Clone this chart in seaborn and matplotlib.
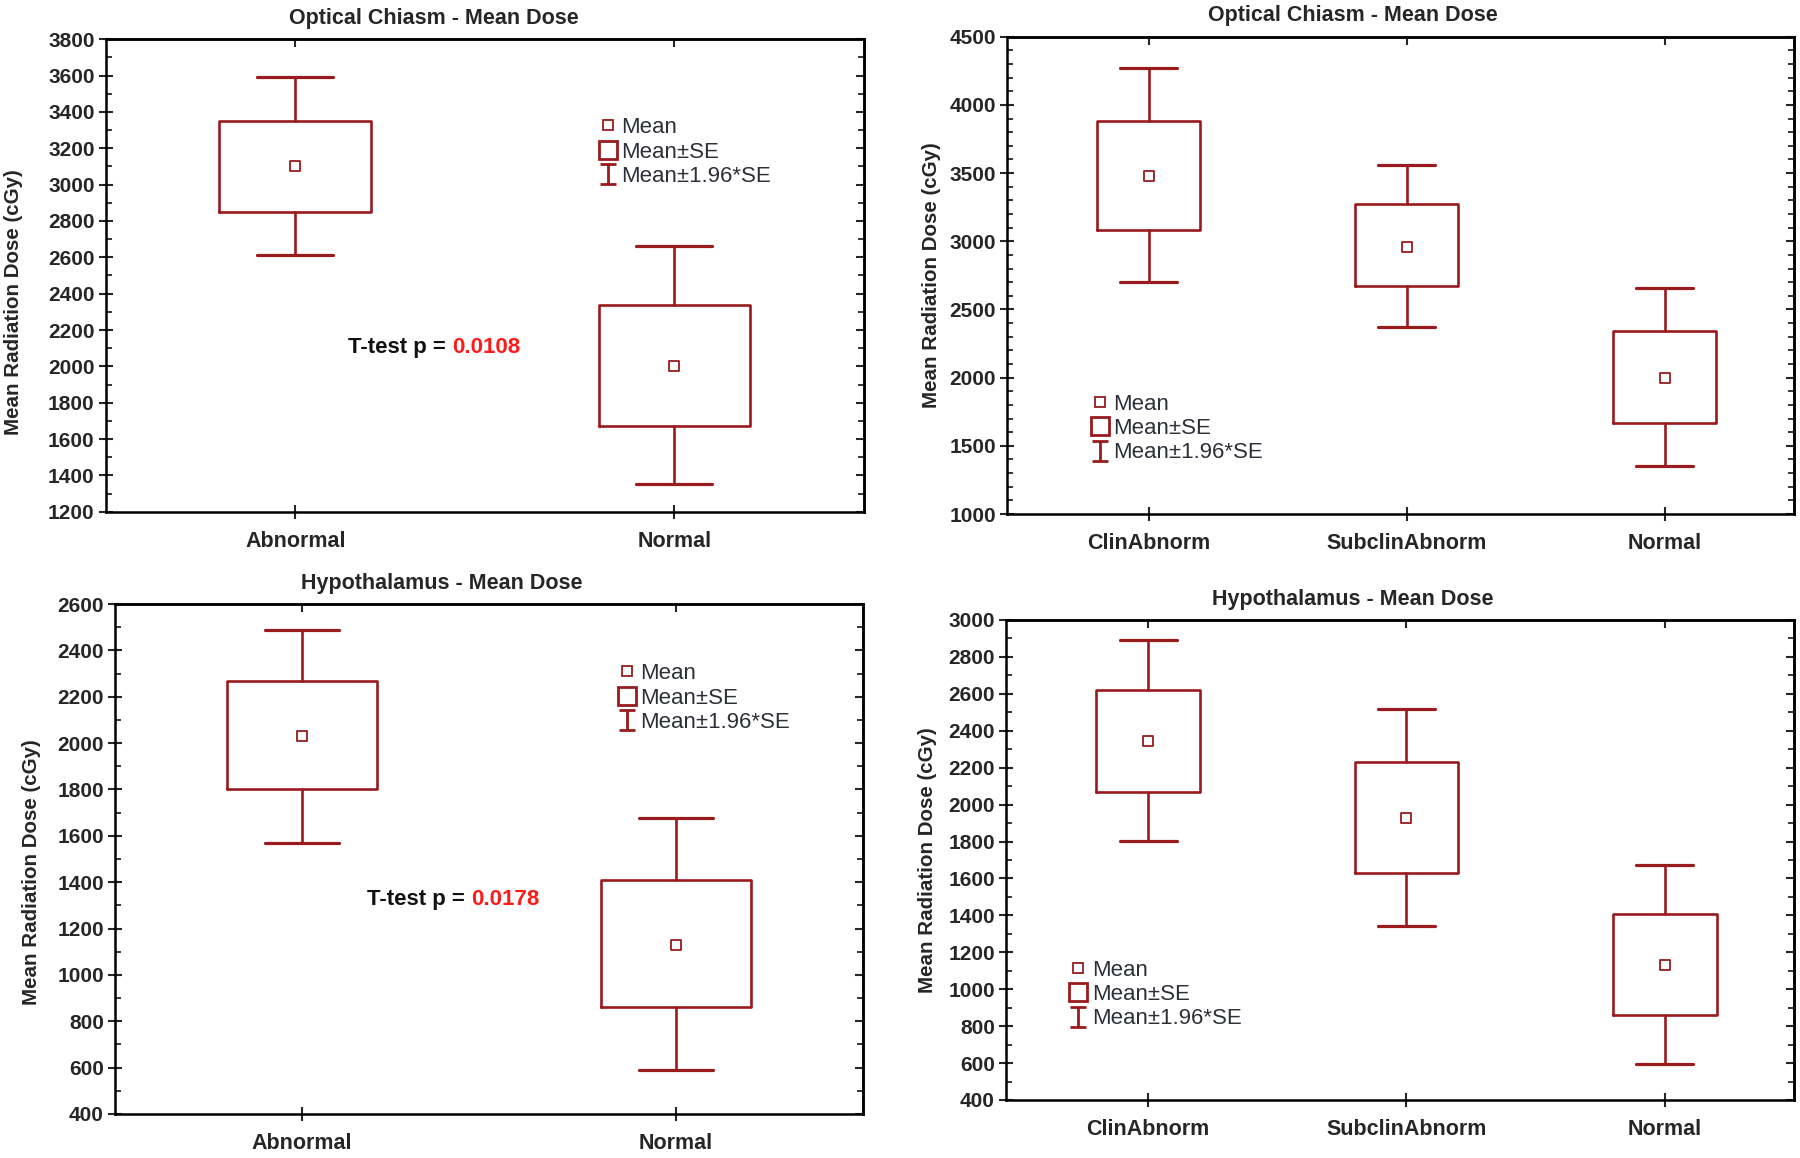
import numpy as np
import pandas as pd
import matplotlib.pyplot as plt
import seaborn as sns
from matplotlib.lines import Line2D
from matplotlib.path import Path
from matplotlib.ticker import MultipleLocator, FixedLocator, NullLocator

# ---- data (cGy) ----
groups_2 = ['Abnormal', 'Normal']
groups_3 = ['ClinAbnorm', 'SubclinAbnorm', 'Normal']

# optical chiasm, abnormal vs normal
oc2_mean = [3100, 2000]
oc2_se_lo = [2850, 1670]
oc2_se_hi = [3350, 2340]
oc2_ci_lo = [2610, 1350]
oc2_ci_hi = [3590, 2660]

# optical chiasm, three groups
oc3_mean = [3480, 2960, 2000]
oc3_se_lo = [3080, 2670, 1670]
oc3_se_hi = [3880, 3270, 2340]
oc3_ci_lo = [2700, 2370, 1350]
oc3_ci_hi = [4270, 3560, 2660]

# hypothalamus, abnormal vs normal
hy2_mean = [2030, 1130]
hy2_se_lo = [1800, 860]
hy2_se_hi = [2270, 1410]
hy2_ci_lo = [1570, 590]
hy2_ci_hi = [2490, 1675]

# hypothalamus, three groups
hy3_mean = [2345, 1925, 1130]
hy3_se_lo = [2070, 1630, 860]
hy3_se_hi = [2620, 2230, 1405]
hy3_ci_lo = [1805, 1340, 595]
hy3_ci_hi = [2890, 2520, 1675]

p_oc = '0.0108'
p_hy = '0.0178'

RED = '#991b1e'
ARIAL = ['Liberation Sans', 'DejaVu Sans']

sns.set_style('ticks')
plt.rcParams['font.family'] = ARIAL


def draw_panel(ax, title, groups, mean, se_lo, se_hi, ci_lo, ci_hi,
               ylim, major, title_x, ylabel_xy, leg_xy, capw):
    pos = np.arange(len(groups))
    df = pd.DataFrame({'pos': pos, 'mean': mean})
    stats = []
    for i in range(len(groups)):
        stats.append({'med': mean[i], 'q1': se_lo[i], 'q3': se_hi[i],
                      'whislo': ci_lo[i], 'whishi': ci_hi[i], 'fliers': []})
    ax.bxp(stats, positions=pos, widths=0.4, capwidths=capw,
           showfliers=False, manage_ticks=False,
           boxprops=dict(color=RED, lw=1.9),
           whiskerprops=dict(color=RED, lw=1.9),
           capprops=dict(color=RED, lw=2.3),
           medianprops=dict(lw=0))
    sns.scatterplot(data=df, x='pos', y='mean', ax=ax, marker='s', s=45,
                    facecolor='white', edgecolor=RED, linewidth=1.3, zorder=5)

    ax.set_xlim(-0.5 if len(groups) == 2 else -0.55, len(groups) - 0.5)
    ax.set_ylim(*ylim)
    ax.set_xticks(pos)
    ax.set_xticklabels(groups)
    ax.yaxis.set_major_locator(MultipleLocator(major))
    ax.yaxis.set_minor_locator(MultipleLocator(100))
    ax.tick_params(axis='y', which='major', direction='inout', length=10,
                   width=1.5, right=False, labelsize=15, pad=3)
    ax.tick_params(axis='y', which='minor', direction='in', length=4,
                   width=1.3, right=False)
    ax.tick_params(axis='x', direction='inout', length=10, width=1.5,
                   top=False, labelsize=15.5, pad=9)
    for lab in ax.get_yticklabels() + ax.get_xticklabels():
        lab.set_fontweight('bold')

    # inward ticks on the right and top frame
    right = ax.secondary_yaxis('right')
    right.yaxis.set_major_locator(MultipleLocator(major))
    right.yaxis.set_minor_locator(MultipleLocator(100))
    right.tick_params(which='major', direction='in', length=6, width=1.5,
                      labelright=False)
    right.tick_params(which='minor', direction='in', length=4, width=1.3)
    top = ax.secondary_xaxis('top')
    top.xaxis.set_major_locator(FixedLocator(pos))
    top.xaxis.set_minor_locator(NullLocator())
    top.tick_params(direction='in', length=6, width=1.5, labeltop=False)

    for sp in list(ax.spines.values()) + [right.spines['right'], top.spines['top']]:
        sp.set_visible(True)
        sp.set_linewidth(1.8)
        sp.set_color('black')

    ax.set_xlabel('')
    ax.set_ylabel('Mean Radiation Dose (cGy)', fontsize=14.8, fontweight='bold')
    ax.yaxis.set_label_coords(*ylabel_xy)
    ax.set_title(title, fontsize=15.5, fontweight='bold', x=title_x, pad=11)

    # legend glyph for the 1.96*SE whisker: an "I" with caps
    i_path = Path([(-0.4, -0.5), (0.4, -0.5), (0, -0.5), (0, 0.5),
                   (-0.4, 0.5), (0.4, 0.5)],
                  [Path.MOVETO, Path.LINETO, Path.MOVETO, Path.LINETO,
                   Path.MOVETO, Path.LINETO])
    handles = [
        Line2D([], [], ls='none', marker='s', ms=6.5, mfc='white', mec=RED, mew=1.3),
        Line2D([], [], ls='none', marker='s', ms=13, mfc='white', mec=RED, mew=2),
        Line2D([], [], ls='none', marker=i_path, ms=15, mec=RED, mew=2),
    ]
    leg = ax.legend(handles, ['Mean', 'Mean\u00b1SE', 'Mean\u00b11.96*SE'],
                    loc='upper left', bbox_to_anchor=leg_xy, frameon=False,
                    handlelength=0.7, handletextpad=0.25, borderpad=0,
                    borderaxespad=0, labelspacing=0.15, fontsize=16)
    for t in leg.get_texts():
        t.set_color('#2d3038')


def p_text(ax, x, y, p):
    ax.text(x, y, 'T-test p = ', ha='right', va='center', fontsize=16,
            fontweight='bold', color='#111111')
    ax.text(x, y, p, ha='left', va='center', fontsize=16,
            fontweight='bold', color='#ff1a1a')


fig = plt.figure(figsize=(18, 11.58), dpi=100)
ax1 = fig.add_axes([0.0587, 0.5581, 0.4213, 0.408])
ax2 = fig.add_axes([0.5594, 0.5561, 0.4372, 0.4122])
ax3 = fig.add_axes([0.0639, 0.0380, 0.4156, 0.4404])
ax4 = fig.add_axes([0.5589, 0.0501, 0.4378, 0.4145])

draw_panel(ax1, 'Optical Chiasm - Mean Dose', groups_2, oc2_mean, oc2_se_lo,
           oc2_se_hi, oc2_ci_lo, oc2_ci_hi, (1200, 3800), 200, 0.433,
           (-0.109, 0.444), (0.652, 0.835), 0.2)
draw_panel(ax2, 'Optical Chiasm - Mean Dose', groups_3, oc3_mean, oc3_se_lo,
           oc3_se_hi, oc3_ci_lo, oc3_ci_hi, (1000, 4500), 500, 0.44,
           (-0.084, 0.5), (0.108, 0.252), 0.22)
draw_panel(ax3, 'Hypothalamus - Mean Dose', groups_2, hy2_mean, hy2_se_lo,
           hy2_se_hi, hy2_ci_lo, hy2_ci_hi, (400, 2600), 200, 0.437,
           (-0.099, 0.475), (0.674, 0.884), 0.2)
draw_panel(ax4, 'Hypothalamus - Mean Dose', groups_3, hy3_mean, hy3_se_lo,
           hy3_se_hi, hy3_ci_lo, hy3_ci_hi, (400, 3000), 200, 0.44,
           (-0.0876, 0.5), (0.082, 0.292), 0.22)

p_text(ax1, 0.414, 2102, p_oc)
p_text(ax3, 0.452, 1327, p_hy)

fig.savefig('out.png', dpi=100, facecolor='white')
